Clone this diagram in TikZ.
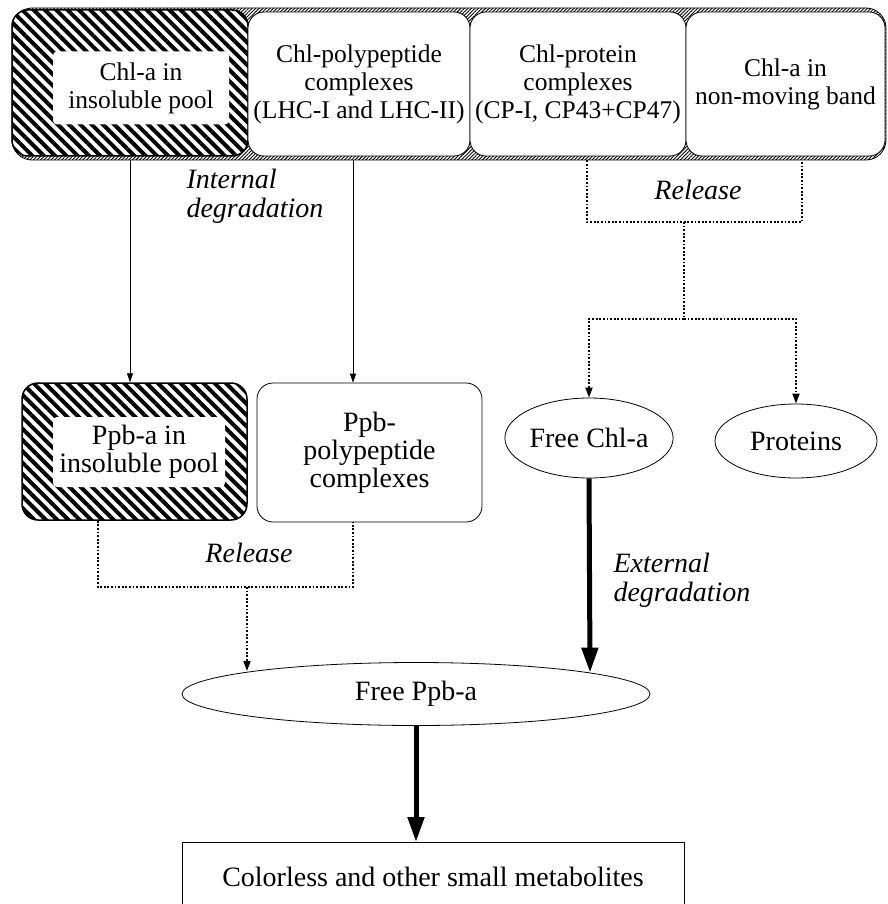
\documentclass[tikz,border=0pt]{standalone}
\usepackage{fontspec}
\setmainfont{Liberation Serif}
\usepackage{tikz}
\usetikzlibrary{
    positioning,
    arrows.meta,
    calc,
    patterns.meta,
    shapes.geometric
}

\begin{document}
\begin{tikzpicture}[x=1pt, y=-1pt,
        every node/.style={font=\fontsize{28}{28}\selectfont, align=center},
        pane/.style={draw, line width=0.8pt, rounded corners=16pt, fill=white, inner sep=0pt},
        toppane/.style={pane, font=\fontsize{25.5}{28}\selectfont},
        hatched/.style={pane, line width=1.5pt, postaction={pattern={Lines[angle=-45, distance=8pt, line width=4pt]}}},
        inset/.style={fill=white, rounded corners=4pt, inner sep=0pt},
        blob/.style={draw, ellipse, line width=0.8pt, inner sep=0pt},
        note/.style={font=\fontsize{28}{29}\selectfont\itshape, align=left},
        thinarrow/.style={-{Triangle[length=9pt, width=6pt]}, line width=0.8pt},
        relline/.style={line width=1.8pt, dash pattern=on 1.8pt off 1.8pt},
        relarrow/.style={relline, -{Triangle[length=10pt, width=7pt]}},
        fatarrow/.style={-{Triangle[length=25pt, width=16pt]}, line width=5pt}
    ]
            \clip (0,0) rectangle (887,904);

            \node[pane, rounded corners=20pt, minimum width=874, minimum height=152,
                postaction={pattern={Lines[angle=45, distance=2.5pt, line width=0.9pt]}}] (band) at (449,84) {};
            \node[hatched, minimum width=236, minimum height=146] (chlins) at (130,83) {};
            \node[inset, minimum width=176, minimum height=73, font=\fontsize{25.5}{28}\selectfont] (chlinstext) at (141,88) {Chl-a in\\insoluble pool};
            \node[toppane, minimum width=222, minimum height=144] (chlpoly) at (359,84) {Chl-polypeptide\\complexes\\(LHC-I and LHC-II)};
            \node[toppane, minimum width=216, minimum height=144] (chlprot) at (578,84) {Chl-protein\\complexes\\(CP-I, CP43+CP47)};
            \node[toppane, minimum width=199, minimum height=144] (nonmov) at (785.5,84) {Chl-a in\\non-moving band};

            \node[hatched, minimum width=225, minimum height=137] (ppbins) at (134.5,451.5) {};
            \node[inset, minimum width=172, minimum height=70] (ppbinstext) at (139,452) {Ppb-a in\\insoluble pool};
            \node[pane, minimum width=225, minimum height=139] (ppbpoly) at (369.5,452.5) {Ppb-\\polypeptide\\complexes};
            \node[blob, minimum width=162, minimum height=80] (freechl) at (589,438) {Free Chl-a};
            \node[blob, minimum width=162, minimum height=74] (proteins) at (796,441) {Proteins};
            \node[blob, minimum width=468, minimum height=63] (freeppb) at (416,694) {Free Ppb-a};
            \node[draw, line width=0.8pt, minimum width=502, minimum height=70, anchor=north] (metab) at (433,842) {Colorless and other small metabolites};

            \node[note, anchor=north west] (intlabel) at (183,166) {Internal\\degradation};
            \node[note] (toprel) at (698,190) {Release};
            \node[note] (lowrel) at (249,553) {Release};
            \node[note, anchor=north west] (extlabel) at (610,550) {External\\degradation};

            \coordinate (rt1) at (587,222);
            \coordinate (rt2) at (802,222);
            \coordinate (rtm) at (684,222);
            \coordinate (rtb) at (684,319);
            \coordinate (rl1) at (98,587);
            \coordinate (rl2) at (353,587);
            \coordinate (rlm) at (247,587);
            \coordinate (rlend) at (247,671);

            \draw[thinarrow] (chlins.south |- band.south) -- (chlins.south |- ppbins.north);
            \draw[thinarrow] ($(chlpoly.south |- band.south)+(-6,0)$) -- ($(chlpoly.south |- ppbpoly.north)+(-6,0)$);

            \draw[relline] (rt1 |- band.south) -- (rt1) -- (rt2) -- (rt2 |- band.south);
            \draw[relline] (rtm) -- (rtb);
            \draw[relarrow] (rtb) -| (freechl.north);
            \draw[relarrow] (rtb) -| (proteins.north);

            \draw[relline] (rl1 |- ppbins.south) -- (rl1) -- (rl2) -- (rl2 |- ppbpoly.south);
            \draw[relarrow] (rlm) -- (rlend);

            \draw[fatarrow] (freechl.south) -- (freeppb.7.1);
            \draw[fatarrow] (freeppb.south) -- (freeppb.south |- metab.north);
        \end{tikzpicture}
\end{document}
